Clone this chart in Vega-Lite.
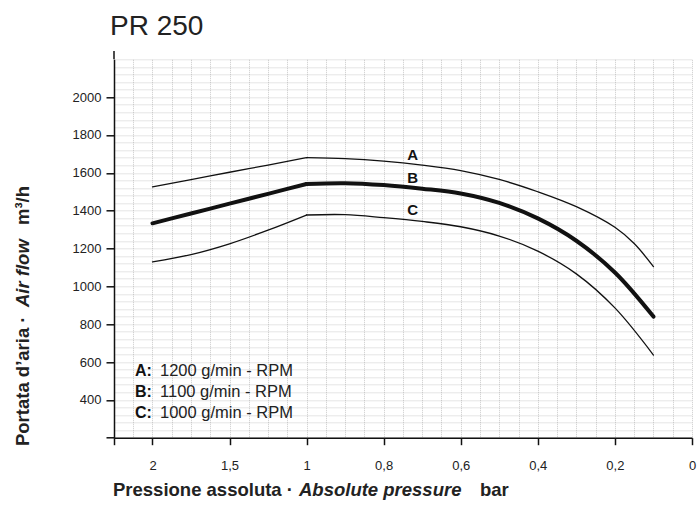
{
  "$schema": "https://vega.github.io/schema/vega-lite/v6.json",
  "autosize": {"type": "none"},
  "padding": {"left": 114, "top": 59.3, "right": 5, "bottom": 70.3},
  "width": 578,
  "height": 378.4,
  "background": "white",
  "config": {"view": {"stroke": null}, "font": "Liberation Sans"},
  "data": {"values": [{}]},
  "datasets": {
    "curves": [
      {"curve": "A", "p": 2, "q": 1526}, {"curve": "A", "p": 1.75, "q": 1564}, {"curve": "A", "p": 1.5, "q": 1603}, {"curve": "A", "p": 1.25, "q": 1641}, {"curve": "A", "p": 1, "q": 1680},
      {"curve": "A", "p": 0.9, "q": 1675}, {"curve": "A", "p": 0.8, "q": 1662}, {"curve": "A", "p": 0.7, "q": 1641}, {"curve": "A", "p": 0.6, "q": 1612}, {"curve": "A", "p": 0.5, "q": 1565},
      {"curve": "A", "p": 0.4, "q": 1500}, {"curve": "A", "p": 0.3, "q": 1421}, {"curve": "A", "p": 0.2, "q": 1312}, {"curve": "A", "p": 0.15, "q": 1226}, {"curve": "A", "p": 0.1, "q": 1104},
      {"curve": "B", "p": 2, "q": 1333}, {"curve": "B", "p": 1.75, "q": 1385}, {"curve": "B", "p": 1.5, "q": 1437}, {"curve": "B", "p": 1.25, "q": 1489}, {"curve": "B", "p": 1, "q": 1541},
      {"curve": "B", "p": 0.9, "q": 1545}, {"curve": "B", "p": 0.8, "q": 1535}, {"curve": "B", "p": 0.7, "q": 1516}, {"curve": "B", "p": 0.6, "q": 1491},
      {"curve": "B", "p": 0.5, "q": 1441}, {"curve": "B", "p": 0.4, "q": 1359}, {"curve": "B", "p": 0.3, "q": 1241}, {"curve": "B", "p": 0.2, "q": 1073}, {"curve": "B", "p": 0.1, "q": 840},
      {"curve": "C", "p": 2, "q": 1129}, {"curve": "C", "p": 1.75, "q": 1168}, {"curve": "C", "p": 1.5, "q": 1225}, {"curve": "C", "p": 1.25, "q": 1297}, {"curve": "C", "p": 1, "q": 1377},
      {"curve": "C", "p": 0.9, "q": 1379}, {"curve": "C", "p": 0.8, "q": 1363}, {"curve": "C", "p": 0.7, "q": 1343}, {"curve": "C", "p": 0.6, "q": 1315}, {"curve": "C", "p": 0.5, "q": 1266},
      {"curve": "C", "p": 0.4, "q": 1186}, {"curve": "C", "p": 0.3, "q": 1066}, {"curve": "C", "p": 0.2, "q": 886}, {"curve": "C", "p": 0.1, "q": 637}
    ]
  },
  "layer": [
    {
      "data": {"name": "curves"},
      "transform": [{"filter": "datum.p >= 1"}],
      "mark": {"type": "line", "interpolate": "monotone", "color": "#111", "clip": false, "strokeCap": "round"},
      "encoding": {
        "x": {
          "field": "p", "type": "quantitative",
          "scale": {"domain": [2.25, 1, 0], "range": [0, 192.5, 578], "nice": false, "zero": false},
          "axis": {
            "title": null,
            "values": [2.25, 2.125, 2, 1.875, 1.75, 1.625, 1.5, 1.375, 1.25, 1.125, 1, 0.95, 0.9, 0.85, 0.8, 0.75, 0.7, 0.65, 0.6, 0.55, 0.5, 0.45, 0.4, 0.35, 0.3, 0.25, 0.2, 0.15, 0.1, 0.05, 0],
            "tickCount": 100,
            "grid": true, "gridColor": "#9a9a9a", "gridDash": [1, 1], "gridWidth": 0.7, "gridOpacity": 0.75,
            "domainColor": "#111", "domainWidth": 1.5,
            "tickColor": "#111", "tickWidth": 1.5, "tickSize": 7,
            "tickOpacity": {"condition": {"test": "indexof([2.25,2,1.5,1,0.8,0.6,0.4,0.2,0], datum.value) >= 0", "value": 1}, "value": 0},
            "labelExpr": "indexof([2,1.5,1,0.8,0.6,0.4,0.2,0], datum.value) >= 0 ? replace('' + datum.value, '.', ',') : ''",
            "labelFont": "Liberation Sans", "labelFontSize": 13, "labelColor": "#222", "labelPadding": 15,
            "labelOverlap": false, "labelBound": false, "labelFlush": false
          }
        },
        "y": {
          "field": "q", "type": "quantitative",
          "scale": {"domain": [200, 2200], "nice": false, "zero": false},
          "axis": {
            "title": null,
            "values": [200, 240, 280, 320, 360, 400, 440, 480, 520, 560, 600, 640, 680, 720, 760, 800, 840, 880, 920, 960, 1000, 1040, 1080, 1120, 1160, 1200, 1240, 1280, 1320, 1360, 1400, 1440, 1480, 1520, 1560, 1600, 1640, 1680, 1720, 1760, 1800, 1840, 1880, 1920, 1960, 2000, 2040, 2080, 2120, 2160, 2200],
            "tickCount": 100,
            "format": "d",
            "grid": true, "gridColor": "#9a9a9a", "gridDash": [1, 1], "gridWidth": 0.7, "gridOpacity": 0.75,
            "domainColor": "#111", "domainWidth": 1.5,
            "tickColor": "#111", "tickWidth": 1.5, "tickSize": 8,
            "tickOpacity": {"condition": {"test": "datum.value % 200 == 0 && datum.value <= 2000", "value": 1}, "value": 0},
            "labelExpr": "datum.value % 200 == 0 && datum.value >= 400 && datum.value <= 2000 ? datum.label : ''",
            "labelFont": "Liberation Sans", "labelFontSize": 13, "labelColor": "#222", "labelPadding": 5,
            "labelOverlap": false, "labelBound": false
          }
        },
        "detail": {"field": "curve", "type": "nominal"},
        "strokeWidth": {"condition": {"test": "datum.curve == 'B'", "value": 4}, "value": 1.3},
        "order": {"field": "p", "sort": "descending"}
      }
    },
    {
      "data": {"name": "curves"},
      "transform": [{"filter": "datum.p <= 1"}],
      "mark": {"type": "line", "interpolate": "catmull-rom", "color": "#111", "clip": false, "strokeCap": "round"},
      "encoding": {
        "x": {"field": "p", "type": "quantitative"},
        "y": {"field": "q", "type": "quantitative"},
        "detail": {"field": "curve", "type": "nominal"},
        "strokeWidth": {"condition": {"test": "datum.curve == 'B'", "value": 4}, "value": 1.3},
        "order": {"field": "p", "sort": "descending"}
      }
    },
    {
      "mark": {"type": "rule", "color": "#111", "strokeWidth": 1.5, "clip": false},
      "encoding": {
        "x": {"datum": 2.25, "type": "quantitative"},
        "y": {"datum": 2200, "type": "quantitative"},
        "y2": {"datum": 2244}
      }
    },
    {
      "mark": {"type": "text", "text": "PR 250", "font": "Liberation Sans", "fontSize": 28, "align": "left", "baseline": "alphabetic", "color": "#222"},
      "encoding": {"x": {"datum": 2.276, "type": "quantitative"}, "y": {"datum": 2329, "type": "quantitative"}}
    },
    {
      "mark": {"type": "text", "text": "A", "font": "Liberation Sans", "fontWeight": "bold", "fontSize": 15, "align": "center", "baseline": "alphabetic", "color": "#111"},
      "encoding": {"x": {"datum": 0.7247, "type": "quantitative"}, "y": {"datum": 1668, "type": "quantitative"}}
    },
    {
      "mark": {"type": "text", "text": "B", "font": "Liberation Sans", "fontWeight": "bold", "fontSize": 15, "align": "center", "baseline": "alphabetic", "color": "#111"},
      "encoding": {"x": {"datum": 0.7247, "type": "quantitative"}, "y": {"datum": 1545, "type": "quantitative"}}
    },
    {
      "mark": {"type": "text", "text": "C", "font": "Liberation Sans", "fontWeight": "bold", "fontSize": 15, "align": "center", "baseline": "alphabetic", "color": "#111"},
      "encoding": {"x": {"datum": 0.7247, "type": "quantitative"}, "y": {"datum": 1377, "type": "quantitative"}}
    },
    {
      "mark": {"type": "text", "text": "A:", "font": "Liberation Sans", "fontWeight": "bold", "fontSize": 16, "align": "left", "baseline": "alphabetic", "color": "#111"},
      "encoding": {"x": {"datum": 2.1136, "type": "quantitative"}, "y": {"datum": 528, "type": "quantitative"}}
    },
    {
      "mark": {"type": "text", "text": "1200 g/min - RPM", "font": "Liberation Sans", "fontSize": 16.5, "align": "left", "baseline": "alphabetic", "color": "#222", "dx": 25},
      "encoding": {"x": {"datum": 2.1136, "type": "quantitative"}, "y": {"datum": 528, "type": "quantitative"}}
    },
    {
      "mark": {"type": "text", "text": "B:", "font": "Liberation Sans", "fontWeight": "bold", "fontSize": 16, "align": "left", "baseline": "alphabetic", "color": "#111"},
      "encoding": {"x": {"datum": 2.1136, "type": "quantitative"}, "y": {"datum": 415, "type": "quantitative"}}
    },
    {
      "mark": {"type": "text", "text": "1100 g/min - RPM", "font": "Liberation Sans", "fontSize": 16.5, "align": "left", "baseline": "alphabetic", "color": "#222", "dx": 25},
      "encoding": {"x": {"datum": 2.1136, "type": "quantitative"}, "y": {"datum": 415, "type": "quantitative"}}
    },
    {
      "mark": {"type": "text", "text": "C:", "font": "Liberation Sans", "fontWeight": "bold", "fontSize": 16, "align": "left", "baseline": "alphabetic", "color": "#111"},
      "encoding": {"x": {"datum": 2.1136, "type": "quantitative"}, "y": {"datum": 302, "type": "quantitative"}}
    },
    {
      "mark": {"type": "text", "text": "1000 g/min - RPM", "font": "Liberation Sans", "fontSize": 16.5, "align": "left", "baseline": "alphabetic", "color": "#222", "dx": 25},
      "encoding": {"x": {"datum": 2.1136, "type": "quantitative"}, "y": {"datum": 302, "type": "quantitative"}}
    },
    {
      "mark": {"type": "text", "text": "Pressione assoluta ·", "font": "Liberation Sans", "fontWeight": "bold", "fontSize": 18.5, "align": "left", "baseline": "alphabetic", "color": "#222"},
      "encoding": {"x": {"datum": 2.2565, "type": "quantitative"}, "y": {"datum": -108, "type": "quantitative"}}
    },
    {
      "mark": {"type": "text", "text": "Absolute pressure", "font": "Liberation Sans", "fontWeight": "bold", "fontStyle": "italic", "fontSize": 18.5, "align": "left", "baseline": "alphabetic", "color": "#222", "dx": 186},
      "encoding": {"x": {"datum": 2.2565, "type": "quantitative"}, "y": {"datum": -108, "type": "quantitative"}}
    },
    {
      "mark": {"type": "text", "text": "bar", "font": "Liberation Sans", "fontWeight": "bold", "fontSize": 18.5, "align": "left", "baseline": "alphabetic", "color": "#222", "dx": 367},
      "encoding": {"x": {"datum": 2.2565, "type": "quantitative"}, "y": {"datum": -108, "type": "quantitative"}}
    },
    {
      "mark": {"type": "text", "text": "Portata d’aria ·", "font": "Liberation Sans", "fontWeight": "bold", "fontSize": 18.5, "align": "left", "baseline": "alphabetic", "angle": 270, "color": "#222"},
      "encoding": {"x": {"datum": 2.799, "type": "quantitative"}, "y": {"datum": 156, "type": "quantitative"}}
    },
    {
      "mark": {"type": "text", "text": "Air flow", "font": "Liberation Sans", "fontWeight": "bold", "fontStyle": "italic", "fontSize": 18.5, "align": "left", "baseline": "alphabetic", "angle": 270, "color": "#222", "dx": 139},
      "encoding": {"x": {"datum": 2.799, "type": "quantitative"}, "y": {"datum": 156, "type": "quantitative"}}
    },
    {
      "mark": {"type": "text", "text": "m³/h", "font": "Liberation Sans", "fontWeight": "bold", "fontSize": 18.5, "align": "left", "baseline": "alphabetic", "angle": 270, "color": "#222", "dx": 221},
      "encoding": {"x": {"datum": 2.799, "type": "quantitative"}, "y": {"datum": 156, "type": "quantitative"}}
    }
  ]
}
